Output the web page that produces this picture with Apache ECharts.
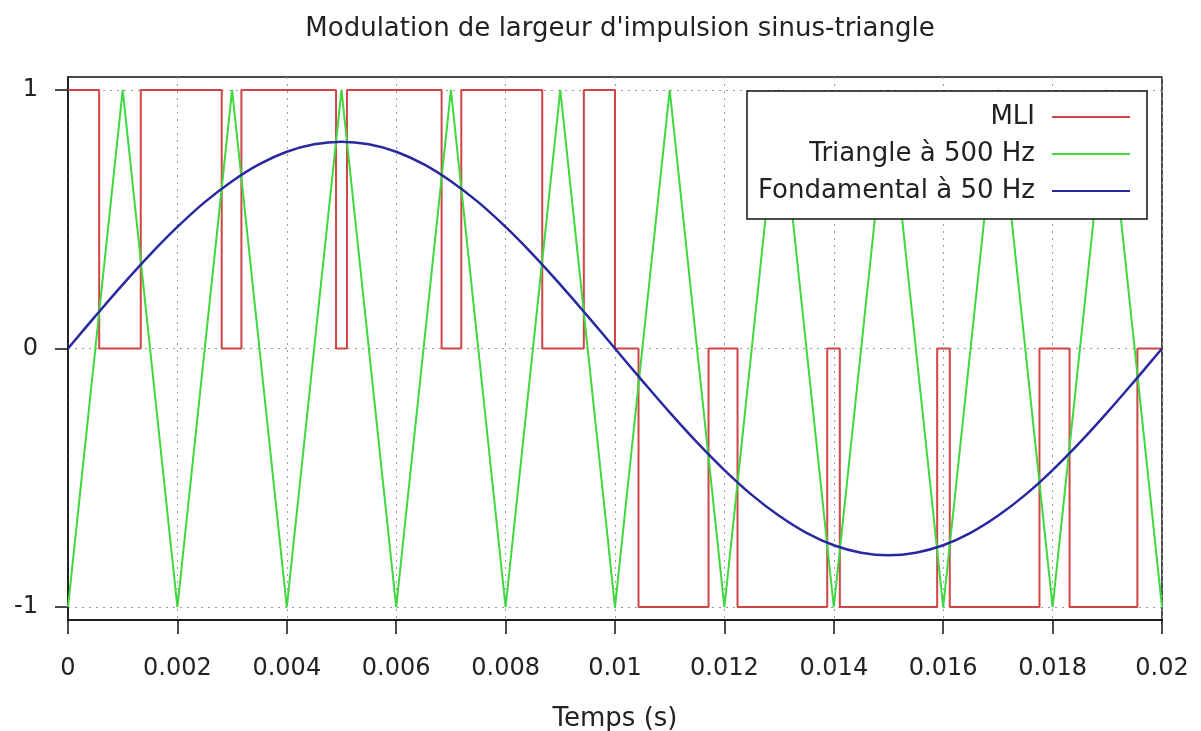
<!DOCTYPE html>
<html>
<head>
<meta charset="utf-8">
<script src="https://cdn.jsdelivr.net/npm/echarts@6/dist/echarts.min.js"></script>
<style>
  html, body { margin: 0; padding: 0; background: #fff; }
  #chart { width: 1201px; height: 731px; }
</style>
</head>
<body>
<div id="chart"></div>
<script>
// tick labels
const xTicks = [0, 0.002, 0.004, 0.006, 0.008, 0.01, 0.012, 0.014, 0.016, 0.018, 0.02];
const yTicks = [-1, 0, 1];

// MLI : [instant du changement, niveau]
const mliTimes = [0, 0.00057, 0.00133, 0.00281, 0.00317, 0.0049, 0.0051, 0.00683, 0.00719, 0.00867, 0.00943,
  0.01, 0.01043, 0.01171, 0.01224, 0.01388, 0.01411, 0.01589, 0.01612, 0.01776, 0.01831, 0.01955, 0.02];
const mliLevels = [1, 0, 1, 0, 1, 0, 1, 0, 1, 0, 1,
  0, -1, 0, -1, 0, -1, 0, -1, 0, -1, 0, 0];

// triangle 500 Hz (sommets)
const triTimes = [0, 0.001, 0.002, 0.003, 0.004, 0.005, 0.006, 0.007, 0.008, 0.009, 0.01,
  0.011, 0.012, 0.013, 0.014, 0.015, 0.016, 0.017, 0.018, 0.019, 0.02];
const triValues = [-1, 1, -1, 1, -1, 1, -1, 1, -1, 1, -1,
  1, -1, 1, -1, 1, -1, 1, -1, 1, -1];

// fondamental 50 Hz
const fundTimes = [0, 0.0005, 0.001, 0.0015, 0.002, 0.0025, 0.003, 0.0035, 0.004, 0.0045,
  0.005, 0.0055, 0.006, 0.0065, 0.007, 0.0075, 0.008, 0.0085, 0.009, 0.0095,
  0.01, 0.0105, 0.011, 0.0115, 0.012, 0.0125, 0.013, 0.0135, 0.014, 0.0145,
  0.015, 0.0155, 0.016, 0.0165, 0.017, 0.0175, 0.018, 0.0185, 0.019, 0.0195, 0.02];
const fundValues = [0, 0.125, 0.247, 0.363, 0.47, 0.566, 0.647, 0.713, 0.761, 0.79,
  0.8, 0.79, 0.761, 0.713, 0.647, 0.566, 0.47, 0.363, 0.247, 0.125,
  0, -0.125, -0.247, -0.363, -0.47, -0.566, -0.647, -0.713, -0.761, -0.79,
  -0.8, -0.79, -0.761, -0.713, -0.647, -0.566, -0.47, -0.363, -0.247, -0.125, 0];

const zip = (xs, ys) => xs.map((x, i) => [x, ys[i]]);

const chart = echarts.init(document.getElementById('chart'));
const font = 'DejaVu Sans';

const option = {
  backgroundColor: '#fff',
  animation: false,
  title: {
    text: "Modulation de largeur d'impulsion sinus-triangle",
    left: 615,
    textAlign: 'center',
    top: 11,
    textStyle: { fontFamily: font, fontSize: 26, fontWeight: 'normal', color: '#222' }
  },
  grid: {
    left: 68, right: 39, top: 77, bottom: 111,
    outerBoundsMode: 'none',
    containLabel: false,
    show: true, borderColor: '#111', borderWidth: 1.5, backgroundColor: 'transparent'
  },
  legend: {
    orient: 'vertical',
    right: 54,
    top: 91,
    align: 'right',
    icon: 'rect',
    itemWidth: 78,
    itemHeight: 2,
    itemGap: 11,
    padding: [13, 17, 15, 11],
    backgroundColor: '#fff',
    borderColor: '#111',
    borderWidth: 1.5,
    borderRadius: 0,
    formatter: name => '{a|' + name + '}',
    textStyle: {
      rich: {
        a: { fontFamily: font, fontSize: 26, color: '#222', width: 277, align: 'right', lineHeight: 26, padding: [0, 12, 0, 0] }
      }
    },
    data: ['MLI', 'Triangle à 500 Hz', 'Fondamental à 50 Hz']
  },
  xAxis: {
    type: 'value',
    min: 0, max: 0.02, interval: 0.002,
    name: 'Temps (s)',
    nameLocation: 'middle',
    nameGap: 86,
    nameTextStyle: { fontFamily: font, fontSize: 26, color: '#222' },
    axisLine: { show: true, onZero: false, lineStyle: { color: '#111', width: 1.5 } },
    axisTick: { show: true, inside: false, length: 14, lineStyle: { color: '#111', width: 1.5 } },
    axisLabel: { fontFamily: font, fontSize: 24, color: '#222', margin: 37, formatter: v => String(+v.toFixed(3)) },
    splitLine: { show: true, lineStyle: { color: '#999', type: [2, 5], width: 1 } }
  },
  yAxis: {
    type: 'value',
    min: -1.05, max: 1.05,
    axisLine: { show: true, onZero: false, lineStyle: { color: '#111', width: 1.5 } },
    axisTick: { show: true, inside: false, length: 13, customValues: yTicks, lineStyle: { color: '#111', width: 1.5 } },
    axisLabel: { fontFamily: font, fontSize: 24, color: '#222', margin: 30, customValues: yTicks },
    splitLine: { show: true, lineStyle: { color: '#999', type: [2, 5], width: 1 } }
  },
  series: [
    {
      name: 'MLI',
      type: 'line',
      step: 'end',
      symbol: 'none',
      color: '#d04545',
      lineStyle: { width: 2, color: '#d04545' },
      data: zip(mliTimes, mliLevels)
    },
    {
      name: 'Triangle à 500 Hz',
      type: 'line',
      symbol: 'none',
      color: '#3fd83f',
      lineStyle: { width: 2, color: '#3fd83f' },
      data: zip(triTimes, triValues)
    },
    {
      name: 'Fondamental à 50 Hz',
      type: 'line',
      symbol: 'none',
      smooth: 0.4,
      color: '#2828a0',
      lineStyle: { width: 2.5, color: '#2828a0' },
      data: zip(fundTimes, fundValues)
    }
  ]
};

chart.setOption(option);
</script>
</body>
</html>
